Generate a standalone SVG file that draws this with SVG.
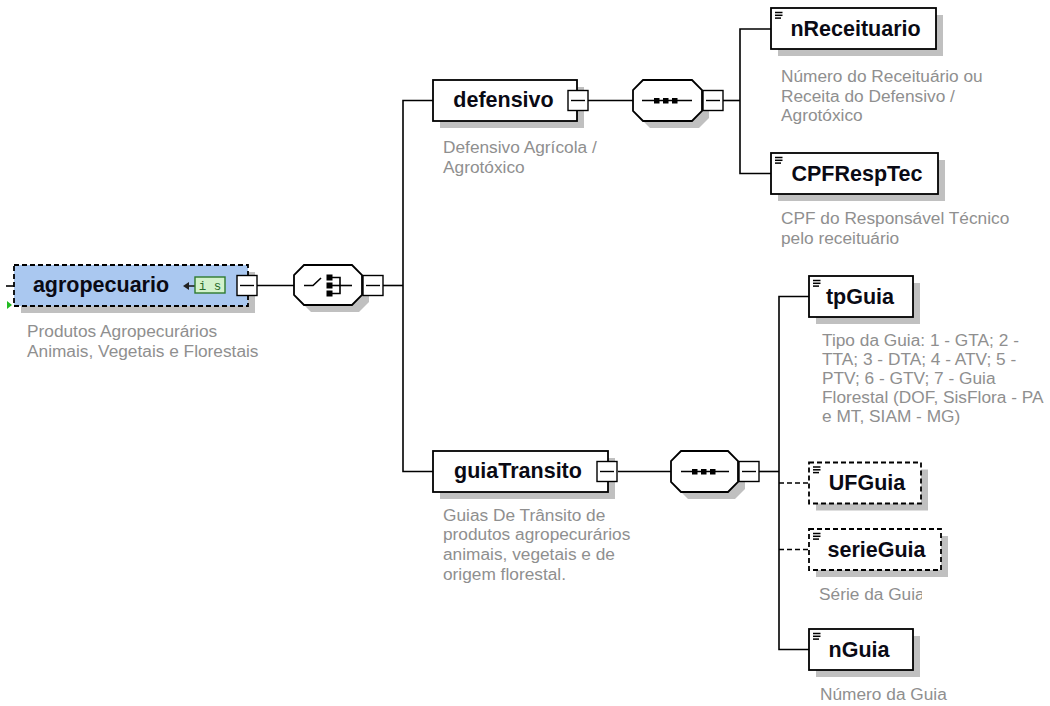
<svg xmlns="http://www.w3.org/2000/svg" width="1050" height="706" viewBox="0 0 1050 706">
<style>
.box{fill:#fff;stroke:#000;stroke-width:1.8}
.opt{fill:#fff;stroke:#000;stroke-width:1.8;stroke-dasharray:5,3}
.shadow{fill:#c0c0c0}
.name{font-family:"Liberation Sans",Arial,sans-serif;font-weight:bold;font-size:21.5px;fill:#0a0a14;text-anchor:middle}
.desc{font-family:"Liberation Sans",Arial,sans-serif;font-size:17.3px;fill:#8f8f8f}
.ln{stroke:#000;stroke-width:1.6;fill:none}
.dash{stroke-dasharray:5,3}
.mb{fill:#fff;stroke:#000;stroke-width:1.4}
.ic{stroke:#000;stroke-width:1.5}
</style>
<defs>
<g id="minus"><rect class="mb" x="0" y="0" width="20" height="20"/><line x1="3" y1="10" x2="17" y2="10" stroke="#000" stroke-width="1.4"/></g>
<g id="elicon"><line class="ic" x1="0" y1="0.5" x2="7.5" y2="0.5"/><line class="ic" x1="0" y1="3.3" x2="7.5" y2="3.3"/><line class="ic" x1="0" y1="6.1" x2="6" y2="6.1"/></g>
<clipPath id="clipSerie"><rect x="810" y="580" width="112" height="30"/></clipPath>
</defs>

<g id="connectors">
<line class="ln" x1="6" y1="286" x2="14" y2="286"/>
<line class="ln" x1="257" y1="285.5" x2="294" y2="285.5"/>
<line class="ln" x1="383" y1="285.5" x2="403" y2="285.5"/>
<polyline class="ln" points="433,100.5 403,100.5 403,471.5 433,471.5"/>
<line class="ln" x1="588" y1="100.5" x2="633" y2="100.5"/>
<line class="ln" x1="723" y1="100.5" x2="740" y2="100.5"/>
<polyline class="ln" points="771,29 740,29 740,173.5 771,173.5"/>
<line class="ln" x1="618" y1="471.5" x2="671" y2="471.5"/>
<line class="ln" x1="759" y1="471.5" x2="779" y2="471.5"/>
<polyline class="ln" points="809,296.5 779,296.5 779,649.5 809,649.5"/>
<line class="ln dash" x1="779" y1="483" x2="809" y2="483"/>
<line class="ln dash" x1="779" y1="549.5" x2="809" y2="549.5"/>
</g>

<g id="agropecuario">
<rect class="shadow" x="21" y="272" width="234" height="41"/>
<rect x="14" y="265" width="234" height="41" fill="#aac8f0" stroke="#000" stroke-width="1.8" stroke-dasharray="5,3"/>
<text class="name" x="101" y="292">agropecuario</text>
<line x1="187" y1="286" x2="195" y2="286" stroke="#222" stroke-width="1.6"/>
<polygon points="183,286 189,282 189,290" fill="#222"/>
<rect x="195" y="277" width="30" height="16" fill="#d3f2cc" stroke="#2e7a2e" stroke-width="1.4"/>
<text x="210" y="289.5" font-family="'Liberation Mono',monospace" font-size="12.5" fill="#2a6a2a" text-anchor="middle">i s</text>
<use href="#minus" x="237" y="275.5"/>
<polygon points="7,301 7,309 12,305" fill="#22bb22"/>
<text class="desc" x="27" y="337">Produtos Agropecurários</text>
<text class="desc" x="27" y="356.5">Animais, Vegetais e Florestais</text>
</g>

<g id="choice">
<polygon class="shadow" points="311,272 359,272 369,282 369,302 359,312 311,312 301,302 301,282"/>
<polygon class="box" stroke-width="1.6" points="304,265 352,265 362,275 362,295 352,305 304,305 294,295 294,275"/>
<polyline class="ln" points="304,285.5 313,285.5 321,278"/>
<rect x="326.5" y="274.5" width="6" height="6"/>
<rect x="326.5" y="282.5" width="6" height="6"/>
<rect x="326.5" y="290.5" width="6" height="6"/>
<polyline class="ln" stroke-width="1.4" points="332,277.5 340,277.5 340,293.5 332,293.5"/>
<line class="ln" stroke-width="1.4" x1="332" y1="285.5" x2="352" y2="285.5"/>
<use href="#minus" x="363" y="275.5"/>
</g>

<g id="defensivo">
<rect class="shadow" x="440" y="87" width="144" height="41"/>
<rect class="box" x="433" y="80" width="144" height="41"/>
<text class="name" x="503.5" y="107">defensivo</text>
<use href="#minus" x="568" y="90.5"/>
<text class="desc" x="443" y="153">Defensivo Agrícola /</text>
<text class="desc" x="443" y="172.5">Agrotóxico</text>
</g>

<g id="seqDefensivo">
<polygon class="shadow" points="650,87 699,87 709,97 709,118 699,128 650,128 640,118 640,97"/>
<polygon class="box" stroke-width="1.6" points="643,80 692,80 702,90 702,111 692,121 643,121 633,111 633,90"/>
<line class="ln" x1="642" y1="100.5" x2="692" y2="100.5"/>
<rect x="654" y="98" width="5.5" height="5.5"/>
<rect x="663" y="98" width="5.5" height="5.5"/>
<rect x="672" y="98" width="5.5" height="5.5"/>
<use href="#minus" x="703" y="90.5"/>
</g>

<g id="nReceituario">
<rect class="shadow" x="778" y="15" width="165" height="41"/>
<rect class="box" x="771" y="8" width="165" height="41"/>
<use href="#elicon" x="775" y="12"/>
<text class="name" x="855.5" y="35.5">nReceituario</text>
<text class="desc" x="781" y="81.5">Número do Receituário ou</text>
<text class="desc" x="781" y="101.5">Receita do Defensivo /</text>
<text class="desc" x="781" y="121">Agrotóxico</text>
</g>

<g id="CPFRespTec">
<rect class="shadow" x="778" y="160" width="167" height="41"/>
<rect class="box" x="771" y="153" width="167" height="41"/>
<use href="#elicon" x="775" y="157"/>
<text class="name" x="857" y="180.5">CPFRespTec</text>
<text class="desc" x="781" y="224">CPF do Responsável Técnico</text>
<text class="desc" x="781" y="243.5">pelo receituário</text>
</g>

<g id="guiaTransito">
<rect class="shadow" x="440" y="458" width="175" height="41"/>
<rect class="box" x="433" y="451" width="175" height="41"/>
<text class="name" x="518" y="478">guiaTransito</text>
<use href="#minus" x="597" y="461.5"/>
<text class="desc" x="443" y="520.5">Guias De Trânsito de</text>
<text class="desc" x="443" y="540">produtos agropecurários</text>
<text class="desc" x="443" y="560">animais, vegetais e de</text>
<text class="desc" x="443" y="579.5">origem florestal.</text>
</g>

<g id="seqGuiaTransito">
<polygon class="shadow" points="688,458 735,458 745,468 745,489 735,499 688,499 678,489 678,468"/>
<polygon class="box" stroke-width="1.6" points="681,451 728,451 738,461 738,482 728,492 681,492 671,482 671,461"/>
<line class="ln" x1="681" y1="471.5" x2="729" y2="471.5"/>
<rect x="692" y="469" width="5.5" height="5.5"/>
<rect x="701" y="469" width="5.5" height="5.5"/>
<rect x="710" y="469" width="5.5" height="5.5"/>
<use href="#minus" x="739" y="461.5"/>
</g>

<g id="tpGuia">
<rect class="shadow" x="816" y="283" width="104" height="41"/>
<rect class="box" x="809" y="276" width="104" height="41"/>
<use href="#elicon" x="813" y="280"/>
<text class="name" x="860" y="303.5">tpGuia</text>
<text class="desc" x="822" y="346">Tipo da Guia: 1 - GTA; 2 -</text>
<text class="desc" x="822" y="365">TTA; 3 - DTA; 4 - ATV; 5 -</text>
<text class="desc" x="822" y="384">PTV; 6 - GTV; 7 - Guia</text>
<text class="desc" x="822" y="403">Florestal (DOF, SisFlora - PA</text>
<text class="desc" x="822" y="421.5">e MT, SIAM - MG)</text>
</g>

<g id="UFGuia">
<rect class="shadow" x="816" y="469.5" width="112" height="41"/>
<rect class="opt" x="809" y="462.5" width="112" height="41"/>
<use href="#elicon" x="813" y="466.5"/>
<text class="name" x="867" y="490">UFGuia</text>
</g>

<g id="serieGuia">
<rect class="shadow" x="816" y="536" width="132" height="41"/>
<rect class="opt" x="809" y="529" width="132" height="41"/>
<use href="#elicon" x="813" y="533"/>
<text class="name" x="876.5" y="556.5">serieGuia</text>
<text class="desc" x="819" y="600" clip-path="url(#clipSerie)">Série da Guia</text>
</g>

<g id="nGuia">
<rect class="shadow" x="816" y="636" width="104" height="41"/>
<rect class="box" x="809" y="629" width="104" height="41"/>
<use href="#elicon" x="813" y="633"/>
<text class="name" x="859" y="656.5">nGuia</text>
<text class="desc" x="820" y="700">Número da Guia</text>
</g>
</svg>
